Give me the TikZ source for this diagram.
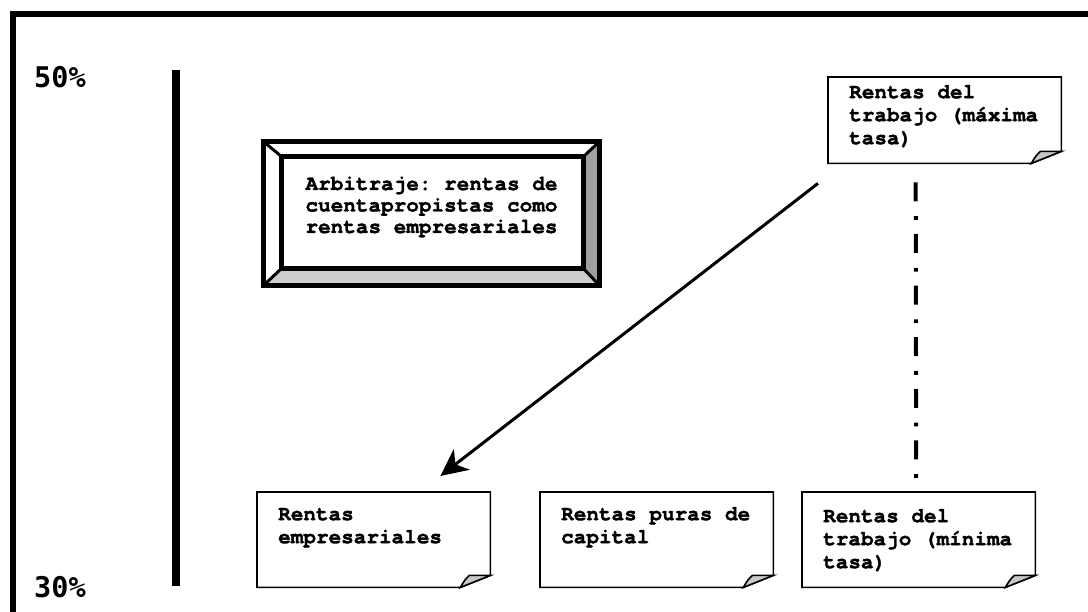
\documentclass[tikz,border=0pt]{standalone}
\usepackage{fontspec}
\setmonofont{texgyrecursor}[Extension=.otf, UprightFont=*-regular, BoldFont=*-bold,
 BoldFeatures={FakeBold=1.6}]
\newfontfamily\pctfont{DejaVu Sans Mono}
\usetikzlibrary{arrows.meta}
\definecolor{fold-gray}{RGB}{200,200,200}
\definecolor{bevel-dark}{RGB}{160,160,160}
\definecolor{bevel-light}{RGB}{204,204,204}
% note outline with a curled corner
\newcommand\dogear[1]{%
 \draw[edge] (#1.north west) -- (#1.north east) -- ([yshift=12pt]#1.south east)
  -- ([xshift=-30pt]#1.south east) -- (#1.south west) -- cycle;
 \filldraw[edge, fill=fold-gray] ([xshift=-30pt]#1.south east)
  .. controls ([xshift=-26pt,yshift=7pt]#1.south east) .. ([xshift=-21pt,yshift=12pt]#1.south east)
  -- ([yshift=12pt]#1.south east) -- cycle;}

\begin{document}
\begin{tikzpicture}[x=1pt, y=-1pt,
 edge/.style={line width=1.6pt, line join=miter},
 note/.style={anchor=north west, align=flush left, text width=191pt, inner xsep=21pt,
  inner ysep=12.5pt, text height=15.5pt, text depth=54.5pt,
  font=\ttfamily\bfseries\fontsize{21}{23}\selectfont},
 arbbox/.style={minimum width=335pt, minimum height=143pt, align=flush center,
  text width=260pt, text height=10pt, text depth=57pt, inner sep=0pt,
  font=\ttfamily\bfseries\fontsize{21}{21.5}\selectfont},
 pct/.style={anchor=base west, inner sep=0pt,
  font=\pctfont\bfseries\fontsize{28.5}{30}\selectfont},
 ar/.style={-{Stealth[length=27pt,width=26pt,inset=8pt]}, line width=3pt},
 dd/.style={line width=4pt, dash pattern=on 19pt off 14.8pt on 3.8pt off 14pt},
]
 \useasboundingbox (0,0) rectangle (1088,612);
 \draw[line width=6.5pt] (13,14) rectangle (1120,650);

 \node[pct] (p50) at (34,88) {50\%};
 \node[pct] (p30) at (34,597) {30\%};
 \draw[line width=8pt] (176,70) -- (176,586);

 % bevelled box
 \node[arbbox] (arb) at (431.5,213.5) {Arbitraje: rentas de\\cuentapropistas como\\rentas empresariales};
 \coordinate (i1) at ([shift={(18,15)}]arb.north west);
 \coordinate (i3) at ([shift={(-16,-17)}]arb.south east);
 \fill[bevel-dark] (arb.north east) -- (arb.south east) -- (i3) -- (i1 -| i3) -- cycle;
 \fill[bevel-light] (arb.south west) -- (arb.south east) -- (i3) -- (i1 |- i3) -- cycle;
 \draw[line width=3pt] (arb.north west) -- (i1) (arb.north east) -- (i1 -| i3)
  (arb.south east) -- (i3) (arb.south west) -- (i1 |- i3);
 \draw[line width=5pt] (arb.north west) rectangle (arb.south east);
 \draw[line width=5pt] (i1) rectangle (i3);

 % notes
 \node[note, text height=8.5pt, text depth=52.5pt] (maxn) at (828,77) {Rentas del\\trabajo (máxima\\tasa)};
 \node[note] (emp) at (257,492) {Rentas\\empresariales};
 \node[note] (cap) at (540,492) {Rentas puras de\\capital};
 \node[note, text height=17.5pt, text depth=52.5pt] (minn) at (802,492) {Rentas del\\trabajo (mínima\\tasa)};
 \dogear{maxn}
 \dogear{emp}
 \dogear{cap}
 \dogear{minn}

 \draw[ar] ([shift={(-10,20)}]maxn.south west) -- ([shift={(-50,-16)}]emp.north east);
 \draw[dd] ([shift={(-29,19)}]maxn.south) -- ([shift={(-2.5,-14)}]minn.north);
\end{tikzpicture}
\end{document}
